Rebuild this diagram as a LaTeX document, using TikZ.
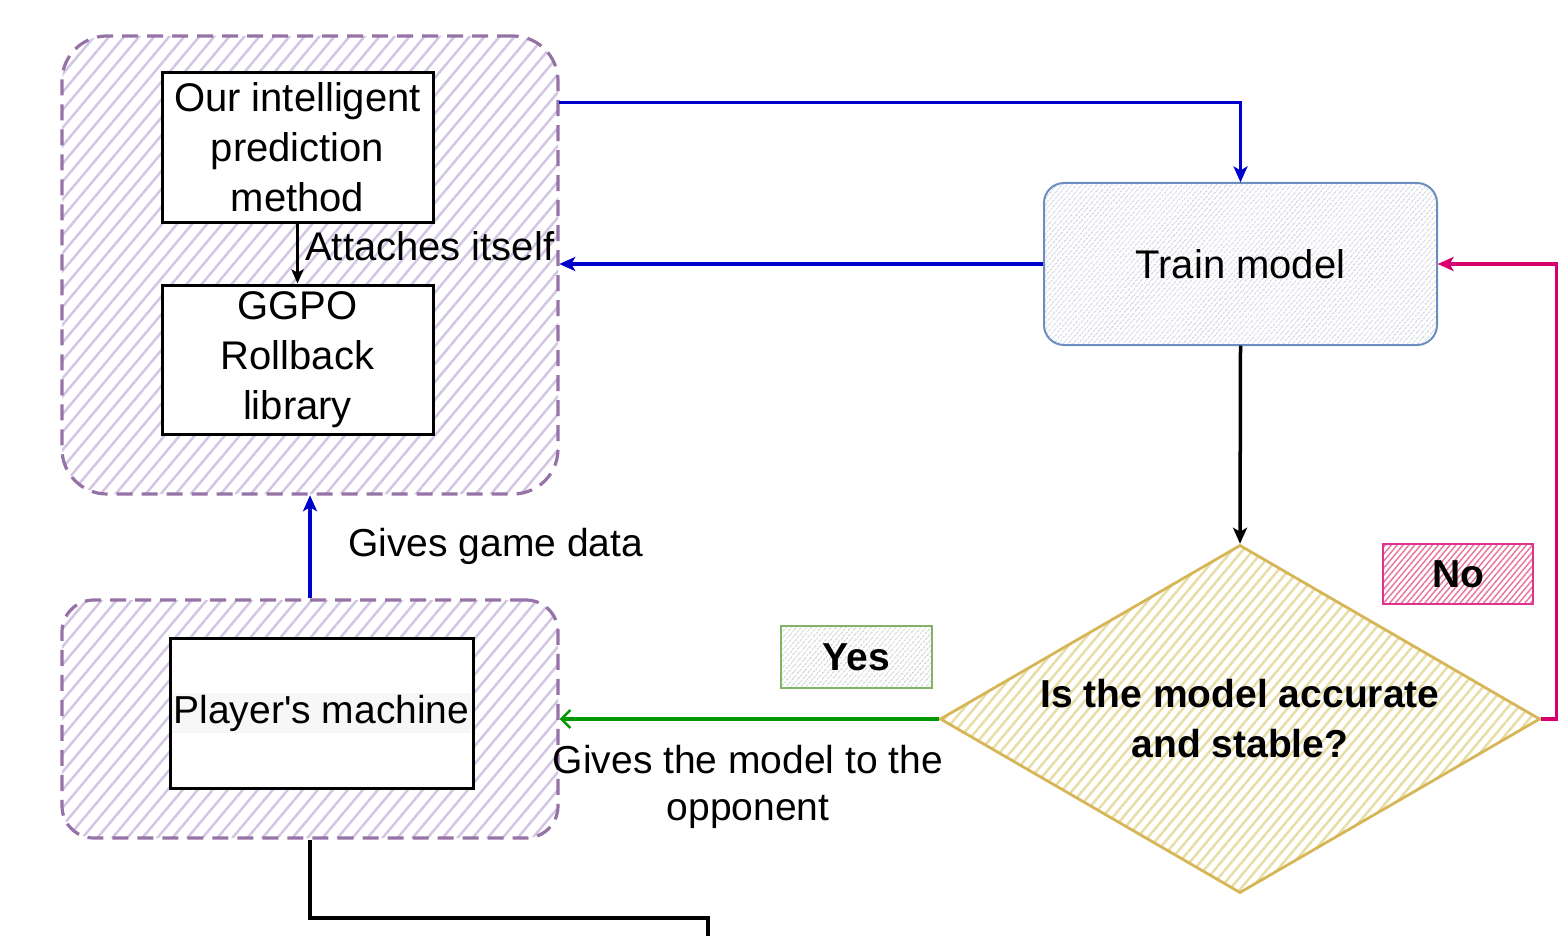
\documentclass[tikz,border=0pt]{standalone}
\usepackage{fontspec}
\setmainfont{Liberation Sans}
\newfontfamily\rawfont{Liberation Sans}
\usetikzlibrary{patterns.meta,arrows.meta,shapes.geometric,calc}
\definecolor{grpc}{HTML}{9673A6}
\definecolor{grphatch}{HTML}{D3C6E3}
\definecolor{trainc}{HTML}{6C8EBF}
\definecolor{trainhatch}{HTML}{C8CCD8}
\definecolor{diac}{HTML}{D6B656}
\definecolor{diahatch}{HTML}{E8DDA4}
\definecolor{noc}{HTML}{D80073}
\definecolor{nohatch}{HTML}{E7799F}
\definecolor{yesc}{HTML}{82B366}
\definecolor{yeshatch}{HTML}{C6CACA}
\definecolor{arrblue}{HTML}{0000CC}
\definecolor{arrgreen}{HTML}{009900}
\definecolor{arrpink}{HTML}{D6006E}
\tikzset{
  txt/.style={font=\fontsize{40}{50}\selectfont},
  boldtxt/.style={font=\bfseries\fontsize{39}{50}\selectfont},
  group/.style={draw=grpc, line width=3.2pt, dash pattern=on 16pt off 9pt,
    pattern={Lines[angle=50,distance=11.5pt,line width=2.5pt]}, pattern color=grphatch,
    inner sep=0pt},
  whitebox/.style={draw=black, line width=3pt, fill=white, inner sep=0pt, align=center, txt},
  trainbox/.style={draw=trainc, line width=2pt, rounded corners=20pt,
    pattern={Lines[angle=50,distance=4pt,line width=1.2pt]}, pattern color=trainhatch,
    inner sep=0pt, txt},
  decision/.style={diamond, aspect=1.724, draw=diac, line width=2.8pt,
    pattern={Lines[angle=50,distance=8pt,line width=2.5pt]}, pattern color=diahatch,
    inner sep=0pt, align=center, boldtxt},
  nobox/.style={draw=noc!80, line width=1.8pt,
    pattern={Lines[angle=50,distance=4.5pt,line width=1.5pt]}, pattern color=nohatch,
    inner sep=0pt, boldtxt},
  yesbox/.style={draw=yesc, line width=1.8pt,
    pattern={Lines[angle=50,distance=4pt,line width=1.2pt]}, pattern color=yeshatch,
    inner sep=0pt, boldtxt},
  bluearrow/.style={draw=arrblue, line width=3.5pt, -{Stealth[length=16pt,width=14pt,inset=4pt]}},
  blackarrow/.style={draw=black, line width=3.5pt, -{Stealth[length=16pt,width=14pt,inset=4pt]}},
  smallarrow/.style={draw=black, line width=3pt, -{Stealth[length=14pt,width=12pt,inset=3pt]}},
  pinkarrow/.style={draw=arrpink, line width=3.5pt, -{Stealth[length=16pt,width=14pt,inset=4pt]}},
  greenarrow/.style={draw=arrgreen, line width=3.5pt, -{Straight Barb[length=9pt,width=18pt,line width=2.5pt]}},
  plainline/.style={draw=black, line width=3.5pt},
}
\begin{document}
\begin{tikzpicture}[x=1pt,y=-1pt]
\useasboundingbox (0,0) rectangle (1568,936);

% groups
\node[group, rounded corners=45pt, minimum width=496pt, minimum height=458pt] (g1) at (310,265) {};
\node[group, rounded corners=32pt, minimum width=496pt, minimum height=238pt] (g2) at (310,719) {};

% inner boxes
\node[whitebox, minimum width=271pt, minimum height=149pt] (pred) at (297.5,147.5)
  {Our intelligent\\prediction\\method};
\node[whitebox, minimum width=271pt, minimum height=149pt] (ggpo) at (297.5,359.5)
  {GGPO\\Rollback\\library};
\node[whitebox, minimum width=303pt, minimum height=150pt] (player) at (321.5,713) {};
\node[fill=black!3, inner sep=2pt, minimum width=296pt, font=\rawfont\fontsize{39}{50}\selectfont] (playertxt) at (321.5,713) {Player's machine};

% train model
\node[trainbox, minimum width=393pt, minimum height=162pt] (train) at (1240.5,264) {Train model};

% decision
\node[decision, minimum width=600pt, minimum height=348pt] (d) at (1240,719)
  {Is the model accurate\\and stable?};

% yes / no labels
\node[nobox, minimum width=150pt, minimum height=60pt] (no) at (1458,574) {No};
\node[yesbox, minimum width=151pt, minimum height=62pt] (yes) at (856.5,657) {Yes};

% connectors
\draw[smallarrow] (pred.south) -- (ggpo.north);
\node[txt, anchor=west, inner sep=0pt] (attach) at (305,246) {Attaches itself};

\draw[bluearrow] ([yshift=-68pt]g1.north east) -| (train.north);
\draw[bluearrow] (train.west) -- (train.west -| g1.east);
\draw[blackarrow] (train.south) -- (d.north);
\draw[pinkarrow] (d.east) -- ++(15,0) |- (train.east);
\draw[greenarrow] (d.west) -- (d.west -| g2.east);
\draw[bluearrow] (g2.north) -- (g1.south);

\node[anchor=west, inner sep=0pt, font=\fontsize{39}{50}\selectfont] (gamedata) at (348,546) {Gives game data};
\node[align=center, inner sep=0pt, font=\fontsize{39}{47}\selectfont] (givesmodel) at (748,787)
  {Gives the model to the\\opponent};

\coordinate (bend) at (708,918);
\coordinate (exit) at (708,945);
\draw[plainline] (g2.south) |- (bend) -- (exit);
\end{tikzpicture}
\end{document}
